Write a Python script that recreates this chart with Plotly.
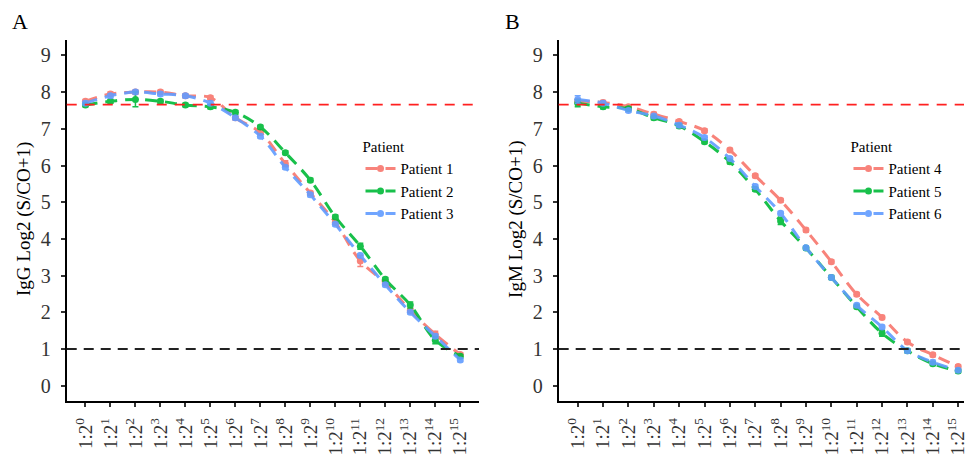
import plotly.graph_objects as go

dilutions = [f"1:2<sup>{i}</sup>" for i in range(16)]
xcat = list(range(16))

# Panel A: IgG
p1 = [7.75, 7.95, 8.0, 8.0, 7.9, 7.85, 7.3, 6.9, 6.05, 5.25, 4.45, 3.4, 2.8, 2.05, 1.4, 0.85]
p2 = [7.65, 7.75, 7.8, 7.75, 7.65, 7.6, 7.45, 7.05, 6.35, 5.6, 4.6, 3.8, 2.9, 2.2, 1.24, 0.8]
p3 = [7.7, 7.9, 8.0, 7.95, 7.9, 7.7, 7.3, 6.8, 5.95, 5.2, 4.4, 3.55, 2.75, 2.0, 1.35, 0.7]
e1 = [0.05, 0.05, 0.05, 0.05, 0.05, 0.05, 0.05, 0.05, 0.08, 0.05, 0.05, 0.15, 0.05, 0.05, 0.08, 0.05]
e2 = [0.05, 0.05, 0.2, 0.05, 0.05, 0.05, 0.05, 0.05, 0.05, 0.05, 0.05, 0.08, 0.05, 0.08, 0.1, 0.05]
e3 = [0.05] * 16

# Panel B: IgM
p4 = [7.75, 7.72, 7.6, 7.4, 7.2, 6.95, 6.42, 5.72, 5.05, 4.24, 3.38, 2.49, 1.86, 1.19, 0.84, 0.52]
p5 = [7.7, 7.6, 7.55, 7.3, 7.08, 6.65, 6.1, 5.35, 4.49, 3.75, 2.95, 2.15, 1.43, 0.95, 0.6, 0.4]
p6 = [7.8, 7.7, 7.5, 7.35, 7.1, 6.76, 6.19, 5.43, 4.7, 3.76, 2.95, 2.19, 1.6, 0.95, 0.64, 0.42]
e4 = [0.05] * 16
e5 = [0.1, 0.05, 0.05, 0.05, 0.05, 0.05, 0.05, 0.05, 0.1, 0.05, 0.05, 0.05, 0.08, 0.05, 0.05, 0.05]
e6 = [0.1, 0.05, 0.05, 0.05, 0.05, 0.05, 0.05, 0.05, 0.05, 0.05, 0.05, 0.05, 0.05, 0.05, 0.05, 0.05]

cutoff_high = 7.66
cutoff_low = 1.0

colors = ["#F8766D", "#00BA38", "#619CFF"]
FONT = "Liberation Serif"

W, H = 968, 456
def px(x):
    return x / W
def py(y):
    return 1 - y / H

fig = go.Figure()

def add(name, vals, errs, color, xa, ya, legend):
    fig.add_trace(go.Scatter(
        x=xcat, y=vals, name=name, mode="lines+markers",
        line=dict(color=color, width=3, dash="12px,8px", shape="spline"),
        marker=dict(color=color, size=7),
        error_y=dict(type="data", array=errs, color=color, thickness=1.5, width=3),
        xaxis=xa, yaxis=ya, legend=legend, opacity=0.9,
    ))

add("Patient 1", p1, e1, colors[0], "x", "y", "legend")
add("Patient 2", p2, e2, colors[1], "x", "y", "legend")
add("Patient 3", p3, e3, colors[2], "x", "y", "legend")
add("Patient 4", p4, e4, colors[0], "x2", "y2", "legend2")
add("Patient 5", p5, e5, colors[1], "x2", "y2", "legend2")
add("Patient 6", p6, e6, colors[2], "x2", "y2", "legend2")

for xr, yr in (("x", "y"), ("x2", "y2")):
    fig.add_shape(type="line", xref=f"{xr} domain", yref=yr, x0=0, x1=1,
                  y0=cutoff_high, y1=cutoff_high,
                  line=dict(color="#FF2020", width=1.6, dash="10px,8px"))
    fig.add_shape(type="line", xref=f"{xr} domain", yref=yr, x0=0, x1=1,
                  y0=cutoff_low, y1=cutoff_low,
                  line=dict(color="#222222", width=2, dash="10px,7px"))

ydom = [py(405), py(40)]

xcommon = dict(tickmode="array", tickvals=xcat, ticktext=dilutions, tickangle=-90,
               showline=True, linecolor="black", linewidth=2, ticks="outside",
               ticklen=4, tickwidth=2, tickcolor="#333333", showgrid=False, zeroline=False,
               ticklabelstandoff=3, ticklabeloverflow="allow",
               tickfont=dict(family=FONT, size=19, color="#333333"))
ycommon = dict(range=[-0.43, 9.43], tickvals=list(range(10)),
               showline=True, linecolor="black", linewidth=2, ticks="outside",
               ticklen=4, tickwidth=2, tickcolor="#333333", showgrid=False, zeroline=False,
               ticklabelstandoff=6,
               tickfont=dict(family=FONT, size=20, color="#333333"))

leg = dict(xanchor="left", yanchor="top",
           title=dict(text="Patient", font=dict(family=FONT, size=15)),
           font=dict(family=FONT, size=15), bgcolor="rgba(0,0,0,0)",
           tracegroupgap=0, itemwidth=30)

fig.update_layout(
    width=W, height=H,
    margin=dict(l=0, r=0, t=0, b=0),
    paper_bgcolor="white", plot_bgcolor="white",
    font=dict(family=FONT, color="black"),
    xaxis=dict(domain=[px(67), px(481)], range=[-0.75, 15.75], anchor="y", **xcommon),
    yaxis=dict(domain=ydom, anchor="x", **ycommon),
    xaxis2=dict(domain=[px(561), 1.0], range=[-0.75, 15.23], anchor="y2", **xcommon),
    yaxis2=dict(domain=ydom, anchor="x2", **ycommon),
    legend=dict(x=px(362), y=py(134), **leg),
    legend2=dict(x=px(852), y=py(134), **leg),
    showlegend=True,
)

fig.add_annotation(text="A", x=px(10), y=py(22), xref="paper", yref="paper",
                   showarrow=False, xanchor="left", yanchor="middle",
                   font=dict(family=FONT, size=22, color="black"))
fig.add_annotation(text="B", x=px(505), y=py(22), xref="paper", yref="paper",
                   showarrow=False, xanchor="left", yanchor="middle",
                   font=dict(family=FONT, size=22, color="black"))
fig.add_annotation(text="IgG Log2 (S/CO+1)", x=px(24), y=py(221), xref="paper", yref="paper",
                   showarrow=False, textangle=-90, xanchor="center", yanchor="middle",
                   font=dict(family=FONT, size=19, color="black"))
fig.add_annotation(text="IgM Log2 (S/CO+1)", x=px(518), y=py(221), xref="paper", yref="paper",
                   showarrow=False, textangle=-90, xanchor="center", yanchor="middle",
                   font=dict(family=FONT, size=19, color="black"))

fig.write_html(
    "out.html",
    config={"displayModeBar": False},
    post_script="document.body.style.margin='0';document.body.style.overflow='hidden';",
)
